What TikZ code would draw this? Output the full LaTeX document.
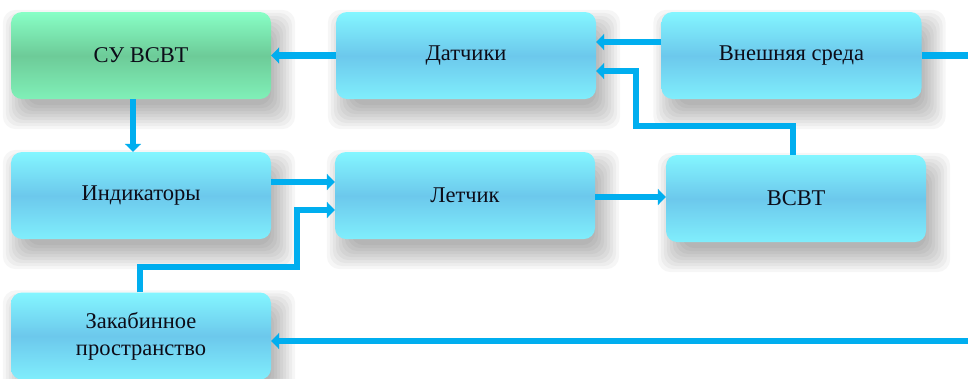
\documentclass[tikz,border=0pt]{standalone}
\usepackage{fontspec}
\setmainfont{Liberation Serif}
\newfontfamily\labelfont{Liberation Serif}
\usetikzlibrary{arrows.meta,calc,backgrounds}

\definecolor{linkblue}{HTML}{00AEEF}
\definecolor{boxtop}{HTML}{84F6FF}
\definecolor{boxmid}{HTML}{6CC8EC}
\definecolor{boxbot}{HTML}{80EEFC}
\definecolor{gtop}{HTML}{88FFC6}
\definecolor{gmid}{HTML}{6DCB98}
\definecolor{gbot}{HTML}{80F0B8}
\definecolor{labeltext}{HTML}{0C0C18}

\tikzset{
  block/.style={
    rectangle, rounded corners=11pt,
    minimum width=260pt, minimum height=87pt,
    inner sep=0pt, align=center,
    top color=boxtop, bottom color=boxbot, middle color=boxmid,
    text=labeltext,
    font=\labelfont\fontsize{22.5}{27}\selectfont
  },
  greenblock/.style={block,
    top color=gtop, bottom color=gbot, middle color=gmid},
  softshadow/.style={fill=black, fill opacity=0.037, rounded corners=13pt},
  link/.style={draw=linkblue, line width=6.5pt},
  arr/.style={link, -{Triangle[length=8pt,width=16pt]}}
}

\begin{document}
\begin{tikzpicture}[x=1pt,y=-1pt]
  \useasboundingbox (0,0) rectangle (968,378);

  % blocks
  \node[greenblock] (su)  at (141,55.5)  {СУ ВСВТ};
  \node[block]      (dat) at (466,55.5)  {Датчики};
  \node[block]      (ext) at (791.5,55.5) {Внешняя среда};
  \node[block]      (ind) at (141,195.5) {Индикаторы};
  \node[block]      (let) at (465,195.5) {Летчик};
  \node[block]      (vsvt) at (796,198.5) {ВСВТ};
  \node[block]      (zak) at (141,336)  {Закабинное\\пространство};

  % page and soft drop shadows, stacked translucent layers
  \begin{scope}[on background layer]
    \fill[white] (0,0) rectangle (968,378);
    \foreach \n in {su,dat,ext,ind,let,vsvt,zak}{
      \foreach \e in {16,13,...,-8}{
        \path[softshadow]
          ($(\n.south west)+(8-\e,14+\e)$) rectangle ($(\n.north east)+(8+\e,14-\e)$);
      }
    }
  \end{scope}

  % free ends at the right border
  \coordinate (outA) at (968,53);
  \coordinate (outB) at (968,341);

  % connectors
  \draw[arr] ([yshift=13.5pt]ext.west) -- ([yshift=13.5pt]dat.east);
  \draw[arr] (dat.west) -- (su.east);
  \draw[link] (ext.east) -- (ext.east -| outA);
  \draw[arr] ([xshift=-3pt]vsvt.north) |- (636,126) |- ([yshift=-15.5pt]dat.east);
  \draw[arr] ([xshift=-8pt]su.south) -- ([xshift=-8pt]ind.north);
  \draw[arr] ([yshift=13.5pt]ind.east) -- ([yshift=13.5pt]let.west);
  \draw[arr] ([xshift=-1pt]zak.north) |- (297,267) |- ([yshift=-14.5pt]let.west);
  \draw[arr] ([yshift=-1.5pt]let.east) -- ([yshift=-1.5pt]let.east -| vsvt.west);
  \draw[arr] (outB) -- (outB -| zak.east);
\end{tikzpicture}
\end{document}
